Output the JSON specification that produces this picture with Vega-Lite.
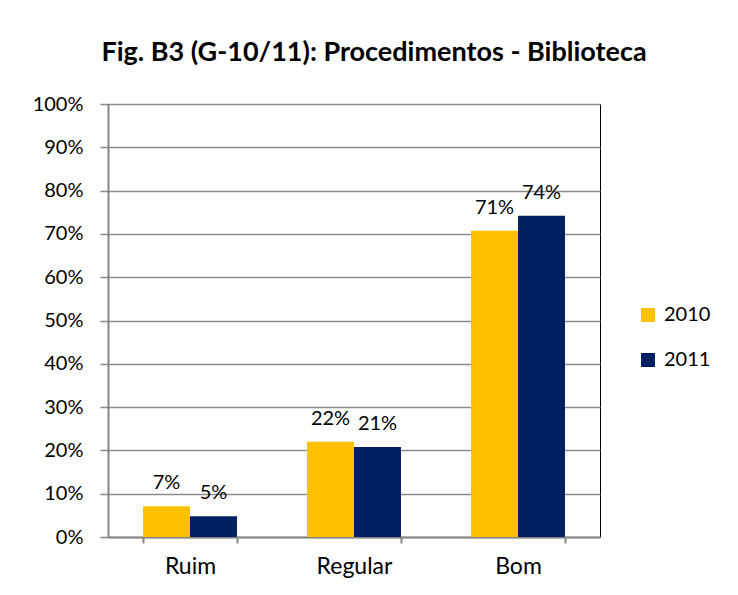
{
  "$schema": "https://vega.github.io/schema/vega-lite/v6.json",
  "width": 492,
  "height": 433,
  "autosize": {"type": "none"},
  "padding": {"left": 108, "top": 104, "right": 138, "bottom": 58},
  "background": "white",
  "title": {
    "text": "Fig. B3 (G-10/11): Procedimentos - Biblioteca",
    "font": "Lato",
    "fontSize": 27,
    "fontWeight": "bold",
    "color": "black",
    "anchor": "middle",
    "dx": 20,
    "baseline": "alphabetic",
    "offset": 6
  },
  "data": {
    "values": [
      {"categoria": "Ruim", "ano": "2010", "valor": 0.071},
      {"categoria": "Ruim", "ano": "2011", "valor": 0.048},
      {"categoria": "Regular", "ano": "2010", "valor": 0.22},
      {"categoria": "Regular", "ano": "2011", "valor": 0.208},
      {"categoria": "Bom", "ano": "2010", "valor": 0.707},
      {"categoria": "Bom", "ano": "2011", "valor": 0.742}
    ]
  },
  "encoding": {
    "x": {
      "field": "categoria",
      "type": "nominal",
      "sort": ["Ruim", "Regular", "Bom"],
      "scale": {"paddingInner": 0.427, "paddingOuter": 0.2135},
      "axis": {
        "title": null,
        "labelAngle": 0,
        "labelFont": "Lato",
        "labelFontSize": 23,
        "labelColor": "black",
        "labelPadding": 12,
        "tickBand": "extent",
        "tickSize": 6,
        "tickColor": "#868686",
        "tickWidth": 2,
        "domainColor": "#868686",
        "domainWidth": 2,
        "grid": false
      }
    },
    "xOffset": {
      "field": "ano",
      "type": "nominal",
      "scale": {"paddingInner": 0, "paddingOuter": 0}
    },
    "y": {
      "field": "valor",
      "type": "quantitative",
      "scale": {"domain": [0, 1], "nice": false},
      "axis": {
        "title": null,
        "values": [0, 0.1, 0.2, 0.3, 0.4, 0.5, 0.6, 0.7, 0.8, 0.9, 1],
        "format": ".0%",
        "labelFont": "Lato",
        "labelFontSize": 20,
        "labelColor": "black",
        "labelPadding": 17,
        "tickSize": 8,
        "tickColor": "#868686",
        "tickWidth": 1.5,
        "domainColor": "#868686",
        "domainWidth": 2,
        "grid": true,
        "gridColor": "#8c8c8c",
        "gridWidth": 1.3
      }
    }
  },
  "layer": [
    {
      "mark": {"type": "bar"},
      "encoding": {
        "color": {
          "field": "ano",
          "type": "nominal",
          "scale": {"domain": ["2010", "2011"], "range": ["#FFC000", "#002060"]},
          "legend": {
            "title": null,
            "orient": "none",
            "legendX": 530,
            "legendY": 201,
            "symbolType": "square",
            "symbolSize": 196,
            "symbolStrokeWidth": 0,
            "labelFont": "Lato",
            "labelFontSize": 20,
            "labelColor": "black",
            "labelOffset": 6,
            "rowPadding": 25
          }
        }
      }
    },
    {
      "mark": {
        "type": "text",
        "font": "Lato",
        "fontSize": 20,
        "color": "black",
        "baseline": "alphabetic",
        "dy": -17
      },
      "encoding": {
        "text": {"field": "valor", "type": "quantitative", "format": ".0%"}
      }
    }
  ],
  "config": {
    "view": {"stroke": "black", "strokeWidth": 1}
  }
}
